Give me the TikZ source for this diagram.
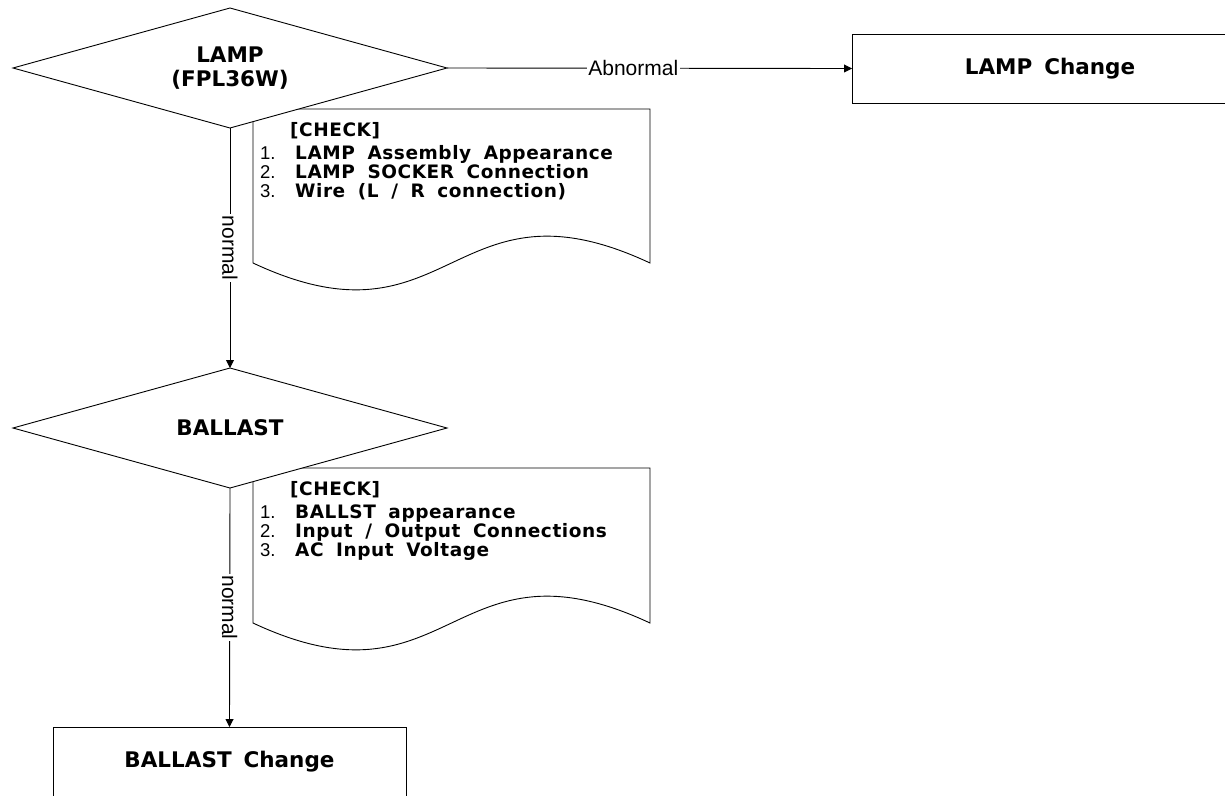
\documentclass[tikz,border=0pt]{standalone}
\usepackage{fontspec}
\setmainfont{Liberation Sans}
\newfontfamily\numf{Liberation Sans}
\newfontfamily\docf[LetterSpace=3,WordSpace=1.8]{DejaVu Sans}
\newfontfamily\bigf[WordSpace=1.6]{DejaVu Sans}
\usetikzlibrary{shapes.geometric,arrows.meta}
\tikzset{
 dec/.style={diamond, draw, fill=white, line width=0.9pt, inner sep=0pt, outer sep=0pt, minimum width=434pt, minimum height=120pt},
 big/.style={font=\bigf\bfseries\fontsize{21.5}{24}\selectfont, align=center, inner sep=0pt},
 proc/.style={rectangle, draw, fill=white, line width=0.9pt, inner sep=0pt, outer sep=0pt},
 docshape/.style={draw, fill=white, line width=0.9pt},
 ck/.style={font=\docf\bfseries\fontsize{18.5}{22}\selectfont, anchor=base west, inner sep=0pt},
 conn/.style={draw, line width=0.9pt, -{Triangle[length=8pt,width=8pt]}},
 elab/.style={font=\fontsize{21}{24}\selectfont, fill=white, inner sep=1.5pt},
}
\newcommand{\itm}[2]{\makebox[35pt][l]{\numf\mdseries\fontsize{18.5}{22}\selectfont #1}#2}
\begin{document}
\begin{tikzpicture}[x=1pt,y=-1pt]
\useasboundingbox (0,0) rectangle (1225,795);
\clip (0,0) rectangle (1225,795);
% document shapes (drawn first, partly covered by the diamonds)
\draw[docshape] (253,109) -- (650,109) -- (650,263) .. controls (451.5,170) and (451.5,356) .. (253,263) -- cycle;
\draw[docshape] (253,468) -- (650,468) -- (650,623) .. controls (451.5,530) and (451.5,716) .. (253,623) -- cycle;
% decisions
\node[dec] (d1) at (230,68) {};
\node[big] (t1) at (230,68) {LAMP\\(FPL36W)};
\node[dec] (d2) at (230,428) {};
\node[big] (t2) at (230,428) {BALLAST};
% process boxes
\node[proc, big, minimum width=396pt, minimum height=69pt] (lc) at (1050,68.5) {LAMP Change};
\node[proc, big, minimum width=353pt, minimum height=70pt] (bc) at (229.5,762) {BALLAST Change};
% connectors
\draw[conn] (d1.east) -- node[elab, pos=0.46] (ab) {Abnormal} (lc.west);
\draw[conn] (d1.south) -- node[elab, rotate=-90] (n1) {normal} (d2.north);
\draw[conn] (d2.south) -- node[elab, rotate=-90] (n2) {normal} (bc.north);
% check lists
\node[ck] (c1h) at (290,136) {[CHECK]};
\node[ck] (c1a) at (260,159) {\itm{1.}{LAMP Assembly Appearance}};
\node[ck] (c1b) at (260,178) {\itm{2.}{LAMP SOCKER Connection}};
\node[ck] (c1c) at (260,197) {\itm{3.}{Wire (L / R connection)}};
\node[ck] (c2h) at (290,495) {[CHECK]};
\node[ck] (c2a) at (260,518) {\itm{1.}{BALLST appearance}};
\node[ck] (c2b) at (260,537) {\itm{2.}{Input / Output Connections}};
\node[ck] (c2c) at (260,556) {\itm{3.}{AC Input Voltage}};
\end{tikzpicture}
\end{document}
